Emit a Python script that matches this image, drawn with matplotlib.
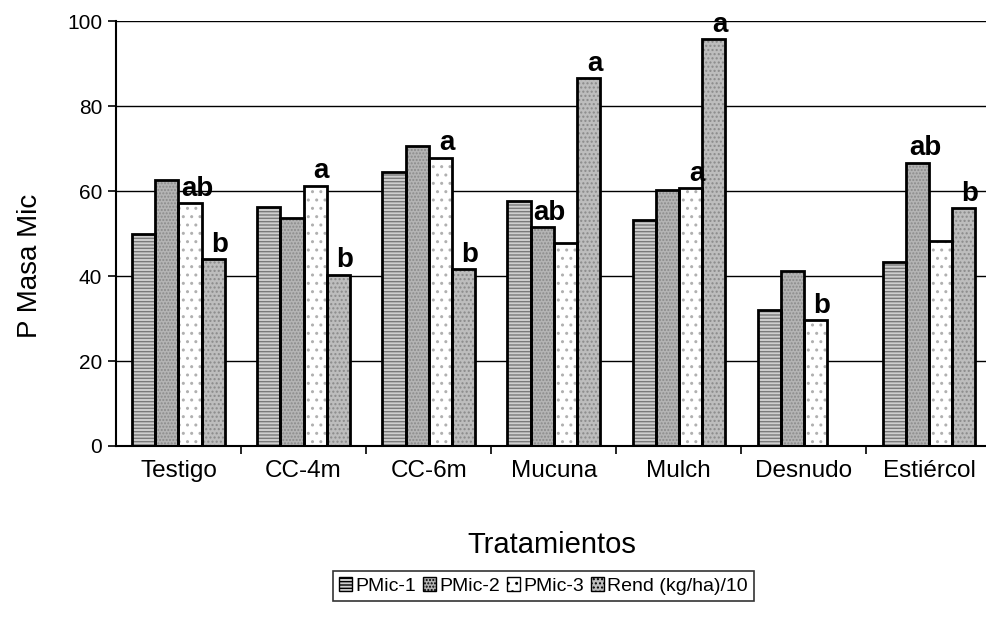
import matplotlib
matplotlib.use("Agg")
import matplotlib.pyplot as plt
import numpy as np
from matplotlib.patches import Patch

plt.rcParams['font.family'] = ['Liberation Sans', 'DejaVu Sans']

categories = ["Testigo", "CC-4m", "CC-6m", "Mucuna", "Mulch", "Desnudo", "Estiércol"]
series_names = ["PMic-1", "PMic-2", "PMic-3", "Rend (kg/ha)/10"]
pmic1 = [50.0, 56.2, 64.6, 57.6, 53.2, 32.0, 43.3]
pmic2 = [62.7, 53.6, 70.6, 51.5, 60.2, 41.1, 66.7]
pmic3 = [57.2, 61.3, 67.9, 47.8, 60.7, 29.6, 48.2]
rend = [43.9, 40.3, 41.6, 86.6, 95.7, np.nan, 56.0]
yticks = [0, 20, 40, 60, 80, 100]

# significance letters: (category index, series index, letter)
letters = [
    (0, 2, "ab"), (0, 3, "b"),
    (1, 2, "a"), (1, 3, "b"),
    (2, 2, "a"), (2, 3, "b"),
    (3, 1, "ab"), (3, 3, "a"),
    (4, 2, "a"), (4, 3, "a"),
    (5, 2, "b"),
    (6, 1, "ab"), (6, 3, "b"),
]

series = [pmic1, pmic2, pmic3, rend]
faces = ['#cfcfcf', '#b4b4b4', '#ffffff', '#bdbdbd']
hatches = ['-----', '.....', '..', '....']
hcolors = ['#7a7a7a', '#8a8a8a', '#b0b0b0', '#8a8a8a']

fig = plt.figure(figsize=(9.86, 6.22), dpi=100)
ax = fig.add_axes([0.1176, 0.283, 0.888, 0.683])

n = len(categories)
x = np.arange(n) + 0.5
w = 0.185
for i, (vals, fc, h, hc) in enumerate(zip(series, faces, hatches, hcolors)):
    pos = x + (i - 1.5) * w
    ax.bar(pos, vals, width=w, color=fc, hatch=h, edgecolor=hc, linewidth=0, zorder=2)
    ax.bar(pos, vals, width=w, fill=False, edgecolor='black', linewidth=2.0, zorder=3)

for ci, si, lab in letters:
    val = series[si][ci]
    xp = x[ci] + (si - 1.5) * w
    dx = 0.06 if len(lab) == 2 else 0.05
    ax.annotate(lab, (xp + dx, val), xytext=(0, 1), textcoords='offset points',
                ha='center', va='bottom', fontsize=20, fontweight='bold', zorder=4)

ax.set_xlim(0, n)
ax.set_ylim(0, 100)
ax.set_yticks(yticks)
ax.set_yticklabels([str(t) for t in yticks], fontsize=15)
ax.set_xticks(np.arange(1, n + 1))
ax.set_xticklabels([])
ax.set_xticks(x, minor=True)
ax.set_xticklabels(categories, minor=True, fontsize=17.5)
ax.tick_params(axis='x', which='minor', length=0, pad=10)
ax.tick_params(axis='x', which='major', length=6, width=1.2, direction='out')
ax.tick_params(axis='y', length=6, width=1.2, direction='out', pad=4)
ax.yaxis.grid(True, color='black', linewidth=1.0, zorder=0)
ax.set_axisbelow(True)
for s in ['top', 'right']:
    ax.spines[s].set_visible(False)
ax.spines['left'].set_linewidth(1.5)
ax.spines['bottom'].set_linewidth(1.5)

fig.text(0.03, 0.572, "P Masa Mic", rotation=90, ha='center', va='center', fontsize=20)
fig.text(0.56, 0.123, "Tratamientos", ha='center', va='center', fontsize=21)

handles = [Patch(facecolor=fc, hatch=h, edgecolor='black', linewidth=1.0)
           for fc, h in zip(faces, hatches)]
leg = fig.legend(handles, series_names, loc='center', bbox_to_anchor=(0.551, 0.058),
                 ncol=4, fontsize=14, frameon=True, fancybox=False, shadow=False,
                 handlelength=0.7, handleheight=0.7, handletextpad=0.15,
                 columnspacing=0.35, borderpad=0.3, borderaxespad=0.0,
                 edgecolor='black')
leg.get_frame().set_linewidth(1.2)

fig.savefig("out.png", dpi=100)
